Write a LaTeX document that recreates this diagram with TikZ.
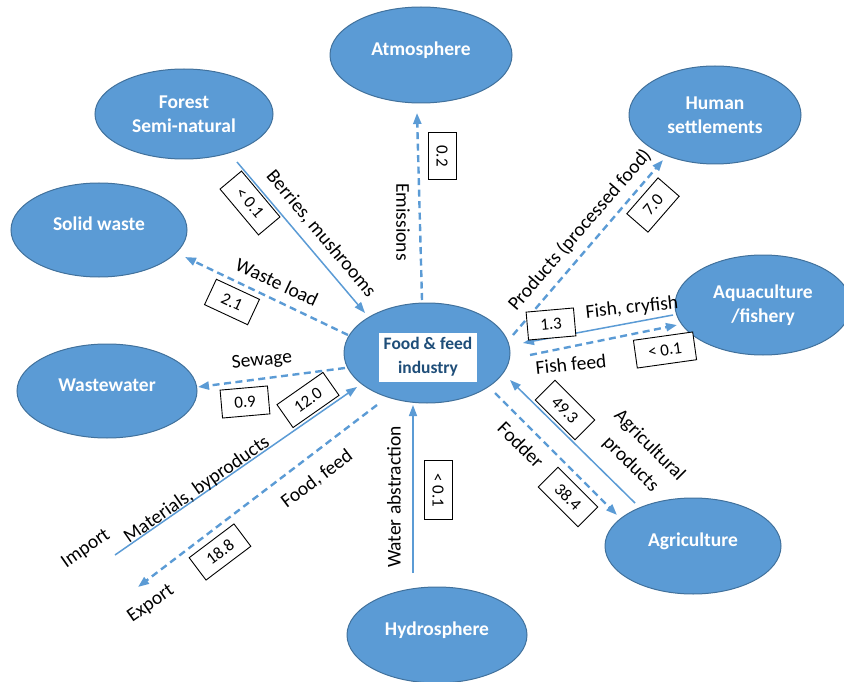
\documentclass[tikz,border=0pt]{standalone}
\usepackage{fontspec}
\setmainfont{Carlito}
\usetikzlibrary{arrows.meta,shapes.geometric}
\definecolor{ecofill}{HTML}{5B9BD5}
\definecolor{ecoline}{HTML}{41719C}
\definecolor{flowblue}{HTML}{5B9BD5}
\definecolor{navy}{HTML}{1F4E79}

\tikzset{
  eco/.style={ellipse, fill=ecofill, draw=ecoline, line width=1pt, text=white,
    align=center, inner sep=0pt, font=\fontsize{19.5}{24}\selectfont\bfseries,
    minimum width=178pt, minimum height=96pt},
  % one-line compartments: text sits a little above the middle
  ecoone/.style={eco, text height=13.5pt, text depth=12pt},
  flow/.style={draw=flowblue, line width=1.5pt, -{Triangle[length=11pt,width=8pt]}},
  dflow/.style={flow, line width=2.4pt, dash pattern=on 7pt off 4.5pt},
  lbl/.style={font=\fontsize{19.5}{23}\selectfont, inner sep=0pt, align=center},
  val/.style={draw=black, line width=0.9pt, fill=white,
    font=\fontsize{17}{20}\selectfont, inner xsep=13pt, inner ysep=0pt,
    minimum height=28pt},
}

\begin{document}
\begin{tikzpicture}[x=1pt,y=-1pt]
\clip (0,0) rectangle (844,682);

% compartments
\node[ecoone, minimum width=182pt] (atm) at (421,55) {Atmosphere};
\node[eco, minimum height=90pt] (forest) at (184,114) {Forest\\Semi-natural};
\node[eco, minimum width=172pt, minimum height=98pt] (human) at (715,115) {Human\\settlements};
\node[ecoone, minimum width=176pt, minimum height=94pt] (solid) at (99,230) {Solid waste};
\node[eco, minimum width=176pt, minimum height=100pt] (aqua) at (763,305) {Aquaculture\\/fishery};
\node[ecoone, minimum width=180pt, minimum height=94pt] (wastew) at (107,391) {Wastewater};
\node[ecoone, minimum width=176pt] (agri) at (693,546) {Agriculture};
\node[ecoone, minimum width=180pt] (hydro) at (437,635) {Hydrosphere};
\node[eco, minimum width=166pt, minimum height=100pt] (food) at (427,353) {};
\node[fill=white, minimum width=98pt, minimum height=49pt, inner sep=0pt,
  text=navy, align=center, font=\fontsize{17.5}{24}\selectfont\bfseries]
  (foodtxt) at (428,357) {Food \& feed\\industry};

% open ends of the trade flows
\coordinate (importend) at (115,555);
\coordinate (exportend) at (138,587);

% flows
\draw[dflow] ([shift={(-5,-53)}]food.center) -- ([shift={(-4,58)}]atm.center);
\draw[flow]  ([shift={(53,48)}]forest.center) -- ([shift={(-62,-40)}]food.center);
\draw[dflow] ([shift={(-79,-18)}]food.center) -- ([shift={(86,27)}]solid.center);
\draw[dflow] ([shift={(-82,15)}]food.center) -- ([shift={(91,-4)}]wastew.center);
\draw[flow]  (importend) -- ([shift={(-70,34)}]food.center);
\draw[dflow] ([shift={(-50,52)}]food.center) -- (exportend);
\draw[flow]  ([shift={(-24,-62)}]hydro.center) -- ([shift={(-14,52)}]food.center);
\draw[dflow] ([shift={(68,40)}]food.center) -- ([shift={(-76,-31)}]agri.center);
\draw[flow]  ([shift={(-58,-43)}]agri.center) -- ([shift={(83,27)}]food.center);
\draw[dflow] ([shift={(86,-18)}]food.center) -- ([shift={(-52,45)}]human.center);
\draw[flow]  ([shift={(-90,10)}]aqua.center) -- ([shift={(96,-10)}]food.center);
\draw[dflow] ([shift={(103,2)}]food.center) -- ([shift={(-86,20)}]aqua.center);

% flow labels
\node[lbl, rotate=-90] (tEmis) at (403,222) {Emissions};
\node[lbl, rotate=-50] (tBerry) at (321,234) {Berries, mushrooms};
\node[lbl, rotate=-25] (tWaste) at (277,282) {Waste load};
\node[lbl, rotate=6] (tSewage) at (262,361) {Sewage};
\node[lbl, rotate=35] (tMat) at (197,490) {Materials, byproducts};
\node[lbl, rotate=35] (tImport) at (86,549) {Import};
\node[lbl, rotate=37] (tFood) at (317,479) {Food, feed};
\node[lbl, rotate=35] (tExport) at (151,604) {Export};
\node[lbl, rotate=90] (tWater) at (394,497) {Water abstraction};
\node[lbl, rotate=-45] (tFodder) at (521,445) {Fodder};
\node[lbl, rotate=-45, font=\fontsize{19.5}{26.5}\selectfont] (tAgri) at (640,455) {Agricultural\\products};
\node[lbl, rotate=49] (tProd) at (580,230) {Products (processed food)};
\node[lbl, rotate=6] (tFish) at (632,308) {Fish, cryfish};
\node[lbl, rotate=6] (tFeed) at (571,364) {Fish feed};

% flow values
\node[val, rotate=-90] (vEmis) at (442,156) {0.2};
\node[val, rotate=-50] (vBerry) at (250,203) {< 0.1};
\node[val, rotate=-25] (vWaste) at (232,302) {2.1};
\node[val, rotate=5] (vSewage) at (245,402) {0.9};
\node[val, rotate=35] (vMat) at (308,400) {12.0};
\node[val, rotate=37] (vFood) at (220,552) {18.8};
\node[val, rotate=-90] (vWater) at (438,490) {< 0.1};
\node[val, rotate=-45] (vFodder) at (568,497) {38.4};
\node[val, rotate=-45] (vAgri) at (565,410) {49.3};
\node[val, rotate=49] (vProd) at (653,205) {7.0};
\node[val, rotate=5] (vFish) at (551,324) {1.3};
\node[val, rotate=8] (vFeed) at (665,350) {< 0.1};
\end{tikzpicture}
\end{document}
